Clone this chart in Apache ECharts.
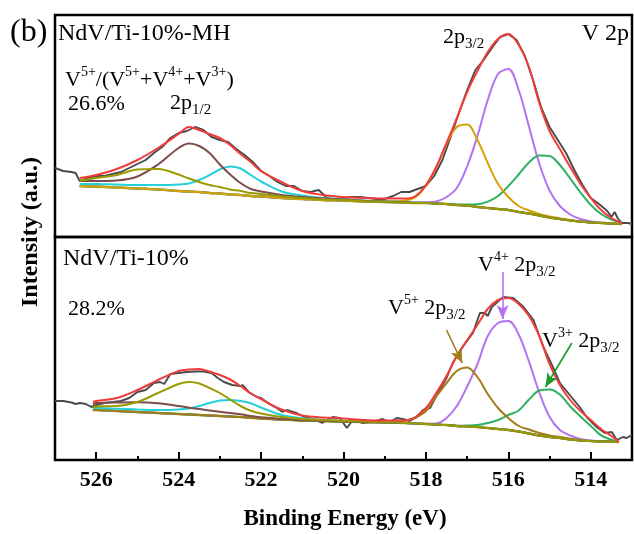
<!DOCTYPE html>
<html><head><meta charset="utf-8">
<script src="https://cdn.jsdelivr.net/npm/echarts@6/dist/echarts.min.js"></script>
<style>html,body{margin:0;padding:0;background:#fff}#c{width:634px;height:534px}</style>
</head><body><div id="c"></div>
<script>
// ---------- data (binding energy in eV, intensity in arbitrary units) ----------
const majorTicks = [514, 516, 518, 520, 522, 524, 526];
const minorTicks = [515, 517, 519, 521, 523, 525];

// fit grid, top panel (NdV/Ti-10%-MH)
const eTop = [526.4,526,525.5,525,524.5,524,523.75,523.5,523.25,523,522.75,522.5,522.25,522,521.5,521,520.5,520,519.5,519,518.5,518.25,518,517.75,517.5,517.25,517,516.75,516.5,516.25,516,515.75,515.5,515.25,515,514.75,514.5,514.25,514,513.75,513.5,513.25];
const bgTop = [51,50.5,49.5,48.5,47.5,46,45.5,45,44,43.5,42.5,42,41,40.5,39,38,37,36.5,35.5,35,34.5,34,34,33.5,33,32,31.5,30,29,28,27,25,23.5,21.5,19.5,18,16.5,15.5,14.5,14,13.5,13];
// component heights above background
const v5p32Top = [0,0,0,0,0,0,0,0,0,0,0,0,0,0,0,0,0,0,0,0.5,2,6,17,36,60,78,81,67,45,25,13,6,3,1.5,1,0.7,0.5,0,0,0,0,0];
const v4p32Top = [0,0,0,0,0,0,0,0,0,0,0,0,0,0,0,0,0,0,0,0,0,0,0.5,2,7,17,39,71,108,135,141,122,87,52,27,13,6,2.5,1,0.5,0,0];
const v3p32Top = [0,0,0,0,0,0,0,0,0,0,0,0,0,0,0,0,0,0,0,0,0,0,0,0,0,0.5,1,2.7,6.4,13,24,37.5,51,60,61.5,54,42,29,17.5,9,4,1.5];
const v4p12Top = [5,5.5,7,12,25,43,48,46,40,29,20,12,7,5,3,2,1.5,1,0.7,0.5,0.4,0.3,0.3,0,0,0,0,0,0,0,0,0,0,0,0,0,0,0,0,0,0,0];
const v5p12Top = [5.5,8.5,12.5,19,20.5,16.5,13,10,8,6.5,5,4,3,2.5,1.5,1,0.7,0.5,0.3,0.2,0,0,0,0,0,0,0,0,0,0,0,0,0,0,0,0,0,0,0,0,0,0];
const v3p12Top = [2,2.5,3,3.5,4.5,6.5,8,12,18,24,28,26.5,21,15,6.5,3.5,2,1.3,1,0.7,0.5,0.4,0.3,0,0,0,0,0,0,0,0,0,0,0,0,0,0,0,0,0,0,0];
const envTop = [59,62,68,77,89,103,110,107,103,99,92,83,75,66,55,46,42,40,39,38.5,38.5,41,52,70,94,119,145,166,185,198,203,192,170,134,106,88,70,53,39,27,19,14];
const rawTopE = [527,526.8,526.6,526.5,526.4,526.2,526,525.8,525.6,525.4,525.2,525,524.8,524.6,524.4,524.2,524,523.8,523.6,523.4,523.2,523,522.8,522.6,522.4,522.2,522,521.8,521.6,521.4,521.2,521,520.8,520.6,520.4,520.2,520,519.8,519.6,519.4,519.2,519,518.8,518.6,518.4,518.2,518,517.8,517.6,517.4,517.2,517,516.8,516.6,516.4,516.2,516,515.8,515.6,515.4,515.2,515,514.8,514.6,514.4,514.2,514,513.8,513.6,513.5,513.42,513.35,513.25,513.1,513];
const rawTopI = [69,66,65,64,56,59,61,61,63,65,69,73,77,84,90,99,104,106,110,107,100,97,95,88,82,75,66,61,55,51,51,46,45,47,39,37,39,40,40,39,38,38,41,45,45,48,51,61,77,100,124,147,167,177,189,200,203,197,181,157,129,110,97,84,67,52,39,33,26,20,25,19,14,14,13];

// fit grid, bottom panel (NdV/Ti-10%)
const eBot = [526.08,526,525.5,525,524.5,524,523.75,523.5,523.25,523,522.75,522.5,522.25,522,521.5,521,520.5,520,519.5,519,518.5,518.25,518,517.75,517.5,517.25,517,516.75,516.5,516.25,516,515.75,515.5,515.25,515,514.75,514.5,514.25,514,513.75,513.5,513.32];
const bgBot = [50,50,49,48,47,46,45.5,45,44.5,44,43.5,43,42.3,41.5,40.5,39.5,39,38.5,38,37.5,37,36.5,36,35.5,35,34,33.5,33,32,31,30,28.5,26.5,24.5,23,22,20.5,19.5,19,18.6,18.3,18];
const v5p32Bot = [0,0,0,0,0,0,0,0,0,0,0,0,0,0,0,0,0,0,0,0.5,2.5,6,13,28,42,55,59,50,34,21,12,5.5,4,2.5,1.5,1,0.7,0.5,0,0,0,0];
const v4p32Bot = [0,0,0,0,0,0,0,0,0,0,0,0,0,0,0,0,0,0,0,0,0,0,0.3,1,7,20,40,63,92,106,109,97,72,43,20,8,4,1.5,0.5,0,0,0];
const v3p32Bot = [0,0,0,0,0,0,0,0,0,0,0,0,0,0,0,0,0,0,0,0,0,0,0,0,0,0.3,1,2,5,9,15,21,34,45,47.5,43.5,33,24,15,6,2,0];
const v5p12Bot = [3,3.5,5,10,20,30,32.5,31.5,27.5,23,17,11,7,5,2.5,1.5,1,0.6,0.4,0.3,0,0,0,0,0,0,0,0,0,0,0,0,0,0,0,0,0,0,0,0,0,0];
const v4p12Bot = [6,7,8.5,9.8,9.8,8,6.8,6,5,4.2,3.5,2.7,1.8,1.2,0.7,0.4,0.2,0,0,0,0,0,0,0,0,0,0,0,0,0,0,0,0,0,0,0,0,0,0,0,0,0];
const v3p12Bot = [2,2,2.3,2.6,3,4.5,6,9,12.5,15.5,16.5,16,14.5,11,4.5,2.2,1.2,0.8,0.5,0.3,0,0,0,0,0,0,0,0,0,0,0,0,0,0,0,0,0,0,0,0,0,0];
const envBot = [58,59,62,70,80,89,90.5,91,88.5,85,80.5,74,66.5,61,50.5,44.5,42.5,41.5,40,39.5,39.5,43,52,67,84,104,120,135,151,160,162,156,144,124,96,75,60,49,40,31,24,18];
const rawBotE = [527,526.8,526.6,526.5,526.4,526.25,526.12,526.08,526,525.8,525.6,525.4,525.2,525,524.8,524.6,524.45,524.35,524.2,524,523.8,523.6,523.4,523.2,523.05,522.9,522.7,522.5,522.45,522.3,522.1,522,521.8,521.62,521.48,521.38,521.14,520.96,520.67,520.52,520.26,520.09,519.92,519.77,519.53,519.29,519.05,518.88,518.71,518.56,518.39,518.22,518.07,517.9,517.67,517.5,517.35,517.11,516.86,516.69,516.57,516.5,516.4,516.13,515.88,515.63,515.39,515.15,514.92,514.75,514.51,514.27,514.1,513.86,513.66,513.49,513.37,513.22,513.13,513];
const rawBotI = [59,59,57.5,56,57,56,53,51,55,57,58,59,62,68,70,77,78,76,86,87,88,88.5,88.5,87,82,78,75,74,75,68,63,62,56,52,48,50,47,43,40,37,43,42,32,40,37,38,41,38,42,41,39,43,50,52,70,82,97,113,127,147,147,144,153,163,162,153,140,113,93,77,65,53,43,33,27,28,20,23,22,25];

// annotation arrows (data coordinates of the bottom panel: [E, intensity])
const arrowV4 = [[516.14, 188], [516.14, 141]];
const arrowV5 = [[517.5, 130], [517.12, 97]];
const arrowV3 = [[514.46, 117], [515.1, 73]];

// ---------- chart ----------
const C = {
  raw: '#4a4a4a', env: '#f23c3c', gold: '#d6a208', goldDark: '#a37c1a',
  purple: '#b472f0', green: '#2fb062', cyan: '#25d0d6', brown: '#7d4d4b',
  olive: '#9a9a00', bg: '#a89200'
};
const SERIF = '"Liberation Serif","Times New Roman",serif';
const sum = (bg, h) => h.map((v, i) => bg[i] + v);
const pts = (xs, ys) => xs.map((x, i) => [x, ys[i]]);

function line(name, data, color, idx, opts) {
  return Object.assign({
    name, type: 'line', data, xAxisIndex: idx === 0 ? 0 : 1, yAxisIndex: idx,
    showSymbol: false, smooth: 0.35, silent: true,
    lineStyle: { color, width: 2 }, itemStyle: { color }
  }, opts || {});
}
function arrow(coords, color) {
  return {
    silent: true, symbol: ['none', 'arrow'], symbolSize: [9, 14],
    label: { show: false }, lineStyle: { color, width: 1.6, type: 'solid', opacity: 1 },
    itemStyle: { color },
    data: [[{ coord: coords[0] }, { coord: coords[1] }]]
  };
}

const series = [
  line('raw top', pts(rawTopE, rawTopI), C.raw, 0, { smooth: false, lineStyle: { color: C.raw, width: 1.9 } }),
  line('bg top', pts(eTop, bgTop), C.bg, 0, { lineStyle: { color: C.bg, width: 2.4 } }),
  line('V4+ 2p3/2 top', pts(eTop, sum(bgTop, v4p32Top)), C.purple, 0),
  line('V3+ 2p3/2 top', pts(eTop, sum(bgTop, v3p32Top)), C.green, 0),
  line('V5+ 2p3/2 top', pts(eTop, sum(bgTop, v5p32Top)), C.gold, 0),
  line('V3+ 2p1/2 top', pts(eTop, sum(bgTop, v3p12Top)), C.cyan, 0),
  line('V4+ 2p1/2 top', pts(eTop, sum(bgTop, v4p12Top)), C.brown, 0),
  line('V5+ 2p1/2 top', pts(eTop, sum(bgTop, v5p12Top)), C.olive, 0),
  line('envelope top', pts(eTop, envTop), C.env, 0),

  line('raw bottom', pts(rawBotE, rawBotI), C.raw, 1, { smooth: false, lineStyle: { color: C.raw, width: 1.9 } }),
  line('bg bottom', pts(eBot, bgBot), C.bg, 1, { lineStyle: { color: C.bg, width: 2.4 } }),
  line('V4+ 2p3/2 bottom', pts(eBot, sum(bgBot, v4p32Bot)), C.purple, 1, { markLine: arrow(arrowV4, C.purple) }),
  line('V3+ 2p3/2 bottom', pts(eBot, sum(bgBot, v3p32Bot)), C.green, 1, { markLine: arrow(arrowV3, '#1c9a2c') }),
  line('V5+ 2p3/2 bottom', pts(eBot, sum(bgBot, v5p32Bot)), C.goldDark, 1, { markLine: arrow(arrowV5, '#a07a14') }),
  line('V3+ 2p1/2 bottom', pts(eBot, sum(bgBot, v3p12Bot)), C.cyan, 1),
  line('V4+ 2p1/2 bottom', pts(eBot, sum(bgBot, v4p12Bot)), C.brown, 1),
  line('V5+ 2p1/2 bottom', pts(eBot, sum(bgBot, v5p12Bot)), C.olive, 1),
  line('envelope bottom', pts(eBot, envBot), C.env, 1)
];

const base = { fontSize: 22, fontFamily: SERIF, lineHeight: 30, fill: '#000' };
const rich = {
  b: base,
  big: Object.assign({}, base, { fontSize: 24 }),
  sup: { fontSize: 14, fontFamily: SERIF, lineHeight: 22, verticalAlign: 'top', fill: '#000' },
  sub: { fontSize: 15, fontFamily: SERIF, lineHeight: 17, verticalAlign: 'bottom', fill: '#000' }
};
function txt(text, pos) {
  return Object.assign({ type: 'text', silent: true, style: { text, rich, fontFamily: SERIF, fontSize: 22, fill: '#000' } }, pos);
}

const option = {
  animation: false,
  backgroundColor: '#fff',
  grid: [
    { left: 55, top: 15, width: 577, height: 222, show: true, borderColor: '#000', borderWidth: 2.5, backgroundColor: 'transparent' },
    { left: 55, top: 237, width: 577, height: 223, show: true, borderColor: '#000', borderWidth: 2.5, backgroundColor: 'transparent' }
  ],
  xAxis: [
    { gridIndex: 0, type: 'value', min: 513, max: 527, inverse: true, show: false },
    { gridIndex: 1, type: 'value', min: 513, max: 527, inverse: true, position: 'bottom',
      axisLine: { show: false }, splitLine: { show: false },
      axisTick: { show: true, inside: true, length: 8, lineStyle: { color: '#000', width: 2 }, customValues: majorTicks },
      axisLabel: { customValues: majorTicks, margin: 9, color: '#000', fontFamily: SERIF, fontWeight: 'bold', fontSize: 22 } },
    { gridIndex: 1, type: 'value', min: 513, max: 527, inverse: true, position: 'bottom',
      axisLine: { show: false }, splitLine: { show: false },
      axisTick: { show: true, inside: true, length: 4, lineStyle: { color: '#000', width: 2 }, customValues: minorTicks },
      axisLabel: { show: false } }
  ],
  yAxis: [
    { gridIndex: 0, type: 'value', min: 0, max: 222, show: false },
    { gridIndex: 1, type: 'value', min: 0, max: 223, show: false }
  ],
  series,
  graphic: [
    { type: 'text', silent: true, left: 10, top: 17, style: { text: '(b)', fontSize: 32, fontFamily: SERIF, fill: '#000' } },
    txt('{big|NdV/Ti-10%-MH}', { left: 58, top: 22 }),
    txt('{big|V 2p}', { right: 5, top: 22 }),
    txt('{b|2p}{sub|3/2}', { left: 443, top: 26 }),
    txt('{b|V}{sup|5+}{b|/(V}{sup|5+}{b|+V}{sup|4+}{b|+V}{sup|3+}{b|)}', { left: 65, top: 65 }),
    txt('{b|26.6%}', { left: 68, top: 93 }),
    txt('{b|2p}{sub|1/2}', { left: 170, top: 92 }),
    txt('{big|NdV/Ti-10%}', { left: 63, top: 247 }),
    txt('{b|28.2%}', { left: 68, top: 298 }),
    txt('{b|V}{sup|4+}{b| 2p}{sub|3/2}', { left: 478, top: 250 }),
    txt('{b|V}{sup|5+}{b| 2p}{sub|3/2}', { left: 388, top: 293 }),
    txt('{b|V}{sup|3+}{b| 2p}{sub|3/2}', { left: 542, top: 326 }),
    { type: 'text', silent: true, x: 31, y: 232, rotation: Math.PI / 2,
      style: { text: 'Intensity (a.u.)', font: 'bold 24px ' + SERIF, fill: '#000', align: 'center', verticalAlign: 'middle' } },
    { type: 'text', silent: true, x: 345, y: 519,
      style: { text: 'Binding Energy (eV)', font: 'bold 23px ' + SERIF, fill: '#000', align: 'center', verticalAlign: 'middle' } }
  ]
};

const chart = echarts.init(document.getElementById('c'), null, { renderer: 'canvas' });
chart.setOption(option);
</script></body></html>
